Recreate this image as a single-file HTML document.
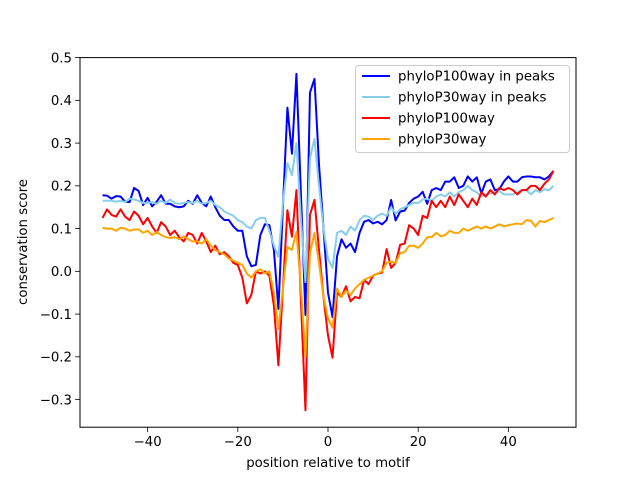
<!DOCTYPE html>
<html><head><meta charset="utf-8"><style>
body{margin:0;background:#fff}
text{font-family:"DejaVu Sans","Liberation Sans",sans-serif;fill:#000}
</style></head><body>
<svg id="chart" width="640" height="480" xmlns="http://www.w3.org/2000/svg">
<rect width="640" height="480" fill="#fff"/>
<g id="plot"></g>
<rect x="80" y="57.6" width="496" height="369.6" fill="none" stroke="#000" stroke-width="1"/>
<g id="ticks"></g>
<text x="328" y="467" font-size="13.3" text-anchor="middle">position relative to motif</text>
<text transform="translate(27,242) rotate(-90)" font-size="13.3" text-anchor="middle">conservation score</text>
<g id="legend">
<rect x="355.5" y="65.5" width="214" height="87" rx="3" fill="#fff" fill-opacity="0.8" stroke="#ccc"/>
</g>
</svg>
<script>
const xs=[];for(let i=-50;i<=50;i++)xs.push(i);
const seriesNames=["phyloP100way in peaks","phyloP30way in peaks","phyloP100way","phyloP30way"];
const colors=["#0000ff","#87ceeb","#ff0000","#ffa500"];
const xTicks=[-40,-20,0,20,40];
const yTicks=[-0.3,-0.2,-0.1,0.0,0.1,0.2,0.3,0.4,0.5];
const blueVals=[0.178,0.177,0.170,0.176,0.175,0.163,0.162,0.195,0.188,0.155,
0.172,0.152,0.163,0.178,0.158,0.158,0.152,0.150,0.152,0.165,
0.158,0.178,0.160,0.152,0.175,0.150,0.130,0.120,0.120,0.105,
0.095,0.095,0.035,0.012,0.015,0.085,0.110,0.108,0.050,-0.088,
0.150,0.383,0.275,0.462,0.180,-0.102,0.418,0.450,0.250,0.100,
-0.050,-0.107,0.035,0.075,0.055,0.065,0.045,0.090,0.116,0.120,
0.112,0.116,0.110,0.120,0.167,0.119,0.140,0.142,0.160,0.170,
0.175,0.186,0.158,0.190,0.195,0.190,0.210,0.210,0.220,0.195,
0.200,0.222,0.210,0.220,0.182,0.210,0.215,0.190,0.192,0.210,
0.222,0.210,0.210,0.220,0.222,0.222,0.220,0.220,0.215,0.222,0.235];
const lightVals=[0.165,0.165,0.165,0.163,0.165,0.162,0.170,0.168,0.165,0.160,
0.160,0.162,0.158,0.165,0.160,0.168,0.160,0.158,0.160,0.162,
0.160,0.165,0.158,0.160,0.165,0.155,0.150,0.140,0.135,0.130,
0.120,0.115,0.105,0.100,0.120,0.125,0.125,0.095,0.060,0.034,
0.160,0.253,0.225,0.300,0.120,-0.025,0.265,0.310,0.200,0.100,
0.030,0.008,0.090,0.095,0.085,0.105,0.095,0.120,0.130,0.128,
0.120,0.130,0.135,0.130,0.150,0.135,0.145,0.150,0.155,0.160,
0.160,0.168,0.170,0.165,0.175,0.180,0.175,0.185,0.175,0.185,
0.190,0.200,0.190,0.185,0.175,0.180,0.182,0.185,0.188,0.180,
0.180,0.180,0.185,0.190,0.190,0.180,0.190,0.185,0.192,0.190,0.200];
const redVals=[0.125,0.145,0.132,0.128,0.145,0.128,0.120,0.140,0.130,0.110,
0.125,0.105,0.090,0.115,0.105,0.085,0.095,0.080,0.070,0.090,
0.085,0.065,0.090,0.070,0.045,0.060,0.040,0.045,0.035,0.020,
0.015,-0.015,-0.075,-0.055,0.000,-0.005,0.000,-0.010,-0.080,-0.220,
-0.040,0.143,0.081,0.190,-0.070,-0.325,0.132,0.167,0.050,-0.060,
-0.150,-0.202,-0.050,-0.060,-0.035,-0.070,-0.060,-0.063,-0.020,-0.030,
-0.010,-0.005,-0.003,0.052,0.008,0.020,0.062,0.065,0.108,0.100,
0.085,0.130,0.125,0.165,0.150,0.165,0.150,0.175,0.155,0.180,
0.165,0.150,0.170,0.155,0.185,0.175,0.190,0.180,0.195,0.190,
0.195,0.190,0.180,0.190,0.190,0.200,0.200,0.190,0.205,0.215,0.235];
const orangeVals=[0.102,0.100,0.100,0.095,0.102,0.100,0.095,0.098,0.098,0.090,
0.095,0.085,0.092,0.085,0.080,0.078,0.080,0.075,0.082,0.075,
0.070,0.070,0.065,0.075,0.060,0.050,0.045,0.040,0.030,0.025,
0.020,0.015,-0.005,-0.015,0.000,0.005,-0.005,0.000,-0.050,-0.135,
-0.040,0.057,0.050,0.093,-0.040,-0.200,0.043,0.090,0.020,-0.060,
-0.110,-0.132,-0.040,-0.060,-0.045,-0.055,-0.040,-0.030,-0.020,-0.015,
-0.010,-0.005,0.000,0.020,0.023,0.020,0.043,0.045,0.060,0.060,
0.055,0.065,0.080,0.080,0.090,0.082,0.085,0.095,0.090,0.090,
0.100,0.095,0.100,0.105,0.100,0.105,0.100,0.105,0.110,0.105,
0.108,0.110,0.112,0.110,0.120,0.118,0.105,0.118,0.115,0.120,0.125];
const allVals=[blueVals,lightVals,redVals,orangeVals];
const NS="http://www.w3.org/2000/svg";
const L=80,R=576,T=57.6,B=427.2,xmin=-55,xmax=55,ymin=-0.3646,ymax=0.5;
const sx=v=>L+(v-xmin)/(xmax-xmin)*(R-L);
const sy=v=>T+(ymax-v)/(ymax-ymin)*(B-T);
const plot=document.getElementById('plot');
const ticks=document.getElementById('ticks');
const legend=document.getElementById('legend');
const names=["series-phylop100way-peaks","series-phylop30way-peaks","series-phylop100way","series-phylop30way"];
allVals.forEach((vals,k)=>{
  const p=document.createElementNS(NS,'polyline');
  p.setAttribute('points',vals.map((v,i)=>sx(xs[i]).toFixed(2)+','+sy(v).toFixed(2)).join(' '));
  p.setAttribute('fill','none');p.setAttribute('stroke',colors[k]);p.setAttribute('stroke-width','2');
  p.setAttribute('stroke-linejoin','round');
  
  
  plot.appendChild(p);
});
xTicks.forEach(t=>{
  const g=document.createElementNS(NS,'g');
  
  
  const x=sx(t);
  g.innerHTML=`<line x1="${x}" x2="${x}" y1="${B}" y2="${B+4.9}" stroke="#000" stroke-width="0.8"/><text x="${x}" y="${B+19}" font-size="13.3" text-anchor="middle">${t<0?'\u2212'+(-t):t}</text>`;
  ticks.appendChild(g);
});
yTicks.forEach(t=>{
  const g=document.createElementNS(NS,'g');
  
  
  const y=sy(t);
  const s=t<0?'\u2212'+(-t).toFixed(1):t.toFixed(1);
  g.innerHTML=`<line x1="${L-4.9}" x2="${L}" y1="${y}" y2="${y}" stroke="#000" stroke-width="0.8"/><text x="${L-8}" y="${y+4.7}" font-size="13.3" text-anchor="end">${s}</text>`;
  ticks.appendChild(g);
});
seriesNames.forEach((n,k)=>{
  const g=document.createElementNS(NS,'g');
  
  
  const y=76+k*21;
  g.innerHTML=`<line x1="362" x2="390" y1="${y}" y2="${y}" stroke="${colors[k]}" stroke-width="2"/><text x="398" y="${y+4.7}" font-size="13.3">${n}</text>`;
  legend.appendChild(g);
});
</script>
</body></html>
